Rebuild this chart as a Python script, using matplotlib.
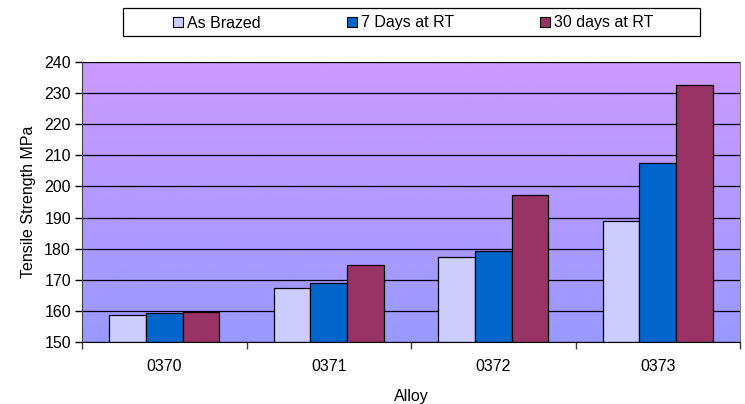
import numpy as np
import matplotlib
matplotlib.use("Agg")
import matplotlib.pyplot as plt
from matplotlib.colors import LinearSegmentedColormap
from matplotlib.patches import Patch, Rectangle

plt.rcParams['font.family'] = ['Liberation Sans', 'DejaVu Sans']

categories = ["0370", "0371", "0372", "0373"]
series_names = ["As Brazed", "7 Days at RT", "30 days at RT"]
as_brazed = [158.7, 167.4, 177.3, 189.0]
days7 = [159.3, 169.0, 179.4, 207.6]
days30 = [159.8, 174.6, 197.3, 232.6]
colors = ["#CCCCFF", "#0066CC", "#993366"]

FS = 11.5
W, H = 745, 404
fig = plt.figure(figsize=(W/100, H/100), dpi=100)
ax = fig.add_axes([82/W, 1-342/H, (740-82)/W, (342-62)/H])

ymin, ymax = 150, 240
ax.set_ylim(ymin, ymax)
ax.set_xlim(-0.5, len(categories) - 0.5)

cmap = LinearSegmentedColormap.from_list("bg", ["#9999FF", "#CC99FF"])
grad = np.linspace(0, 1, 256).reshape(-1, 1)
ax.imshow(grad, aspect='auto', cmap=cmap, origin='lower',
          extent=[-0.5, len(categories) - 0.5, ymin, ymax], zorder=0)

ax.set_yticks(np.arange(150, 241, 10))
ax.yaxis.grid(True, color='black', linewidth=0.9, zorder=1)
ax.set_axisbelow(False)

w = 1 / 4.5
x = np.arange(len(categories))
for i, (vals, name) in enumerate(zip([as_brazed, days7, days30], series_names)):
    ax.bar(x + (i - 1) * w, np.array(vals) - ymin, bottom=ymin, width=w,
           color=colors[i], edgecolor='black', linewidth=0.9, zorder=3, label=name)

ax.set_xticks(x)
ax.set_xticklabels(categories, fontsize=FS)
ax.set_xticks(np.arange(-0.5, len(categories) + 0.5, 1), minor=True)
ax.tick_params(axis='x', which='major', length=0, pad=12)
ax.tick_params(axis='x', which='minor', length=5, width=1, color='#404040')
ax.tick_params(axis='y', length=5, width=1, labelsize=FS, color='black', pad=3)

for s in ['top', 'right']:
    ax.spines[s].set_color('#808080')
ax.spines['left'].set_color('#404040')
ax.spines['bottom'].set_color('black')
ax.spines['left'].set_zorder(4)
ax.spines['bottom'].set_zorder(4)

ax.set_ylabel("Tensile Strength MPa", fontsize=FS, labelpad=6)
ax.set_xlabel("Alloy", fontsize=FS, labelpad=11)

# legend frame
fig.patches.append(Rectangle((123/W, 1-36/H), (700-123)/W, 28/H,
                             transform=fig.transFigure, facecolor='white',
                             edgecolor='black', linewidth=0.9, zorder=1))
handles = [Patch(facecolor=c, edgecolor='black', linewidth=0.8) for c in colors]
leg = fig.legend(handles, series_names, loc='center',
                 bbox_to_anchor=(413/W, 1-23/H), ncol=3, frameon=False,
                 fontsize=FS, handlelength=0.62, handleheight=0.62,
                 handletextpad=0.25, columnspacing=5.4, borderpad=0.2)

fig.savefig("out.png", dpi=100)
